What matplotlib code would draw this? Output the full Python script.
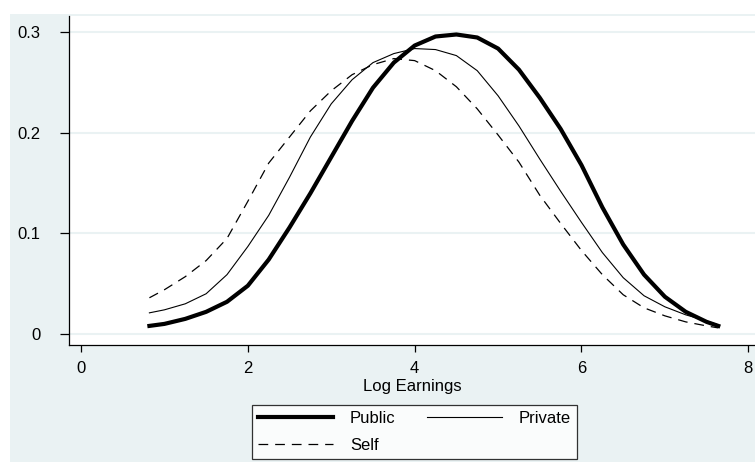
import matplotlib
matplotlib.use("Agg")
import matplotlib.pyplot as plt
from matplotlib.patches import Rectangle
from matplotlib.lines import Line2D

plt.rcParams["font.family"] = ["Liberation Sans", "DejaVu Sans"]
plt.rcParams["lines.scale_dashes"] = False

# log earnings grid
log_earn = [0.82, 1.0, 1.25, 1.5, 1.75, 2.0, 2.25, 2.5, 2.75, 3.0, 3.25, 3.5,
            3.75, 4.0, 4.25, 4.5, 4.75, 5.0, 5.25, 5.5, 5.75, 6.0, 6.25, 6.5,
            6.75, 7.0, 7.25, 7.5, 7.64]

public = [0.008, 0.010, 0.015, 0.022, 0.032, 0.048, 0.074, 0.106, 0.140, 0.176,
          0.212, 0.245, 0.270, 0.287, 0.296, 0.298, 0.295, 0.284, 0.263, 0.235,
          0.204, 0.168, 0.126, 0.089, 0.059, 0.037, 0.022, 0.012, 0.008]

private = [0.021, 0.024, 0.030, 0.040, 0.059, 0.087, 0.118, 0.156, 0.196, 0.229,
           0.253, 0.270, 0.279, 0.284, 0.283, 0.277, 0.262, 0.237, 0.207, 0.174,
           0.142, 0.111, 0.081, 0.056, 0.038, 0.027, 0.019, 0.013, 0.009]

self_emp = [0.036, 0.044, 0.057, 0.073, 0.095, 0.132, 0.170, 0.196, 0.222, 0.242,
            0.258, 0.268, 0.274, 0.272, 0.262, 0.246, 0.224, 0.198, 0.171, 0.138,
            0.110, 0.083, 0.059, 0.039, 0.026, 0.018, 0.012, 0.008, 0.006]

xticks = [0, 2, 4, 6, 8]
yticks = [0, 0.1, 0.2, 0.3]
ytick_labels = ["0", "0.1", "0.2", "0.3"]

bg = "#EAF2F3"
W, H = 755, 462
fs = 12

fig = plt.figure(figsize=(W / 100, H / 100), dpi=100)
fig.patch.set_facecolor("white")
fig.add_artist(Rectangle((10 / W, 0), 1 - 10 / W, 448 / H, transform=fig.transFigure,
                         facecolor=bg, edgecolor="none", zorder=-5))

ax = fig.add_axes([69 / W, 117 / H, 686 / W, 329 / H])
ax.set_facecolor("white")

ax.plot(log_earn, public, color="black", lw=3.0, solid_joinstyle="round")
ax.plot(log_earn, private, color="black", lw=0.8, solid_joinstyle="round")
ax.plot(log_earn, self_emp, color="black", lw=0.9, dashes=(7, 5))

ax.set_xlim(-0.144, 8.08)
ax.set_ylim(-0.011, 0.3164)
ax.set_xticks(xticks)
ax.set_yticks(yticks)
ax.set_yticklabels(ytick_labels)
ax.yaxis.grid(True, color=bg, lw=1.5)
ax.set_axisbelow(True)

for s in ["top", "right"]:
    ax.spines[s].set_visible(False)
for s in ["left", "bottom"]:
    ax.spines[s].set_linewidth(0.9)

ax.tick_params(axis="y", length=6.5, width=0.9, pad=14, labelsize=fs)
ax.tick_params(axis="x", length=5, width=0.9, pad=6.5, labelsize=fs)
ax.set_xlabel("Log Earnings", fontsize=fs, labelpad=2)

handles = [Line2D([], [], color="black", lw=3.0),
           Line2D([], [], color="black", lw=0.9, dashes=(7, 5)),
           Line2D([], [], color="black", lw=0.8)]
leg = fig.legend(handles, ["Public", "Self", "Private"], ncol=2,
                 loc="center", bbox_to_anchor=(414.5 / W, 1 - 432 / H),
                 fontsize=fs, frameon=True, fancybox=False,
                 handlelength=4.5, handletextpad=1.0, columnspacing=1.9,
                 labelspacing=0.75, borderpad=0.35, borderaxespad=0)
leg.get_frame().set_edgecolor("black")
leg.get_frame().set_linewidth(0.9)
leg.get_frame().set_facecolor("white")

fig.savefig("out.png", dpi=100)
